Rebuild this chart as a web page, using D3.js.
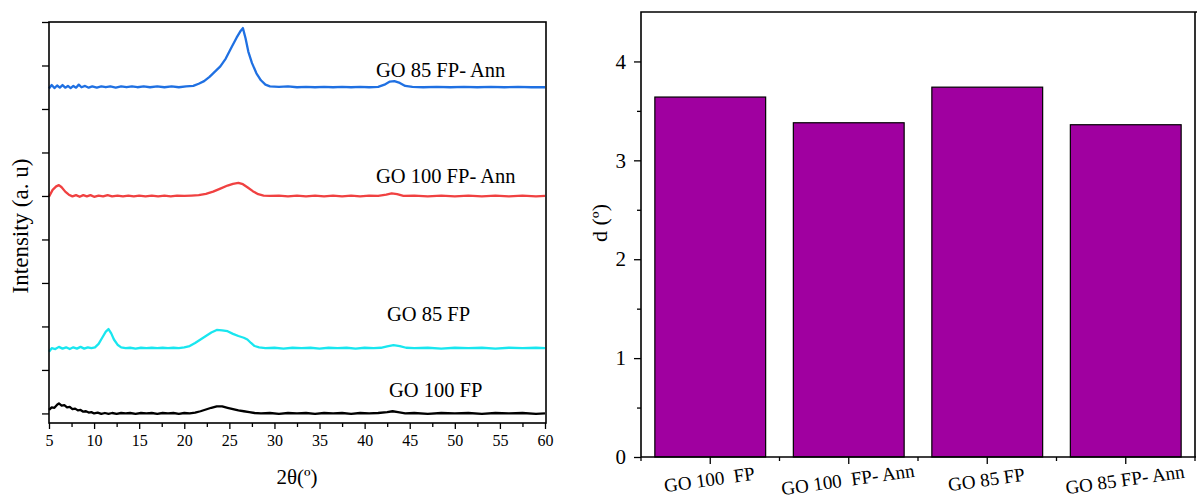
<!DOCTYPE html>
<html>
<head>
<meta charset="utf-8">
<script src="https://cdn.jsdelivr.net/npm/d3@7"></script>
<style>
  body { margin: 0; background: #fff; }
  text { font-family: "Liberation Serif", "Times New Roman", serif; fill: #000; }
</style>
</head>
<body>
<script>
// ---- data ----
// XRD patterns, [2theta, intensity (stacked, a.u.)]
var go85Ann = [[5,7.47],[5.3,7.55],[5.6,7.48],[5.9,7.54],[6.2,7.49],[6.5,7.55],[6.8,7.49],[7.1,7.53],[7.4,7.48],[7.7,7.53],[8,7.49],[8.3,7.56],[8.6,7.5],[9,7.53],[9.4,7.49],[9.8,7.52],[10.3,7.49],[10.8,7.52],[11.3,7.5],[11.8,7.52],[12.4,7.49],[13,7.52],[13.6,7.5],[14.2,7.52],[14.8,7.5],[15.5,7.52],[16.2,7.5],[17,7.52],[17.8,7.5],[18.6,7.52],[19.4,7.5],[20.2,7.52],[21,7.53],[21.6,7.58],[22.2,7.64],[22.8,7.74],[23.4,7.86],[24,7.98],[24.6,8.16],[25.2,8.4],[25.8,8.64],[26.2,8.78],[26.5,8.86],[26.8,8.62],[27.1,8.32],[27.5,8.06],[28,7.82],[28.5,7.66],[29,7.56],[29.5,7.52],[30.5,7.51],[31.5,7.52],[32.5,7.5],[33.5,7.51],[34.5,7.5],[35.5,7.51],[36.5,7.5],[37.5,7.51],[38.5,7.5],[39.5,7.51],[40.5,7.5],[41.5,7.51],[42.2,7.56],[42.8,7.63],[43.3,7.64],[43.9,7.6],[44.5,7.53],[45.3,7.51],[46.5,7.5],[48,7.51],[49.5,7.5],[51,7.51],[52.5,7.5],[54,7.51],[55.5,7.5],[57,7.51],[58.5,7.5],[60,7.5]];
var go100Ann = [[5,4.98],[5.4,5.14],[5.8,5.22],[6.1,5.25],[6.4,5.2],[6.8,5.1],[7.2,5.03],[7.6,4.99],[8,5.02],[8.4,4.98],[8.8,5.02],[9.2,4.99],[9.6,5.02],[10,4.98],[10.5,5.01],[11,4.99],[11.5,5.02],[12,4.99],[12.6,5.01],[13.2,4.99],[13.8,5.01],[14.4,4.99],[15,5.01],[15.7,4.99],[16.4,5.01],[17.1,4.99],[17.8,5.01],[18.5,4.99],[19.2,5.01],[20,5.0],[20.8,5.01],[21.6,5.02],[22.4,5.05],[23.2,5.1],[24,5.17],[24.8,5.24],[25.4,5.28],[26,5.3],[26.5,5.27],[27,5.2],[27.6,5.11],[28.2,5.04],[28.8,5.01],[29.5,5.0],[30.5,5.01],[31.5,4.99],[32.5,5.01],[33.5,4.99],[34.5,5.01],[35.5,4.99],[36.5,5.01],[37.5,4.99],[38.5,5.01],[39.5,4.99],[40.5,5.01],[41.5,5.0],[42.4,5.03],[43,5.06],[43.6,5.04],[44.3,5.0],[45.5,5.01],[47,4.99],[48.5,5.01],[50,4.99],[51.5,5.01],[53,4.99],[54.5,5.01],[56,4.99],[57.5,5.01],[59,4.99],[60,5.0]];
var go85 = [[5,1.42],[5.3,1.5],[5.7,1.48],[6.1,1.53],[6.5,1.49],[6.9,1.52],[7.3,1.48],[7.7,1.52],[8.1,1.49],[8.5,1.53],[8.9,1.49],[9.3,1.52],[9.7,1.5],[10.1,1.52],[10.5,1.6],[10.9,1.74],[11.3,1.88],[11.6,1.94],[11.9,1.84],[12.2,1.7],[12.6,1.58],[13,1.52],[13.5,1.5],[14,1.51],[14.6,1.49],[15.2,1.51],[15.8,1.5],[16.4,1.51],[17,1.5],[17.6,1.51],[18.2,1.5],[18.8,1.51],[19.4,1.5],[20,1.52],[20.6,1.55],[21.2,1.62],[21.8,1.7],[22.4,1.78],[23,1.86],[23.6,1.92],[24.2,1.91],[24.8,1.89],[25.4,1.83],[26,1.78],[26.6,1.74],[27,1.7],[27.4,1.62],[27.8,1.55],[28.3,1.52],[29,1.5],[30,1.51],[31,1.49],[32,1.51],[33,1.5],[34,1.51],[35,1.49],[36,1.51],[37,1.5],[38,1.51],[39,1.49],[40,1.51],[41,1.5],[41.8,1.51],[42.5,1.54],[43.2,1.57],[43.9,1.55],[44.6,1.51],[45.5,1.5],[47,1.51],[48.5,1.49],[50,1.51],[51.5,1.5],[53,1.51],[54.5,1.49],[56,1.51],[57.5,1.5],[59,1.51],[60,1.5]];
var go100 = [[5,0.08],[5.3,0.14],[5.6,0.13],[5.9,0.2],[6.1,0.23],[6.4,0.18],[6.7,0.19],[7,0.14],[7.3,0.15],[7.6,0.1],[7.9,0.11],[8.2,0.07],[8.5,0.08],[8.8,0.04],[9.1,0.05],[9.4,0.02],[9.7,0.03],[10,0.0],[10.4,0.02],[10.8,-0.01],[11.2,0.01],[11.6,-0.01],[12,0.01],[12.5,-0.01],[13,0.01],[13.5,0.0],[14,0.01],[14.6,-0.01],[15.2,0.01],[15.8,0.0],[16.4,0.01],[17,-0.01],[17.6,0.01],[18.2,0.0],[18.8,0.01],[19.4,-0.01],[20,0.01],[20.6,0.0],[21.2,0.02],[21.8,0.05],[22.4,0.09],[23,0.13],[23.6,0.16],[24.2,0.16],[24.8,0.13],[25.4,0.1],[26,0.07],[26.6,0.05],[27.2,0.03],[27.8,0.01],[28.5,0.0],[29.5,0.01],[30.5,-0.01],[31.5,0.01],[32.5,0.0],[33.5,0.01],[34.5,-0.01],[35.5,0.01],[36.5,0.0],[37.5,0.01],[38.5,-0.01],[39.5,0.01],[40.5,0.0],[41.5,0.01],[42.5,0.03],[43.1,0.05],[43.7,0.03],[44.5,0.0],[45.5,0.01],[47,-0.01],[48.5,0.01],[50,0.0],[51.5,0.01],[53,-0.01],[54.5,0.01],[56,0.0],[57.5,0.01],[59,-0.01],[60,0.0]];

var seriesNames = ["GO 100 FP", "GO 85 FP", "GO 100 FP- Ann", "GO 85 FP- Ann"];
var seriesColors = ["#000000", "#19e6ef", "#f04141", "#1f70e2"];
var seriesData = [go100, go85, go100Ann, go85Ann];

var xTicksL = [5, 10, 15, 20, 25, 30, 35, 40, 45, 50, 55, 60];
var xMinorL = [7.5, 12.5, 17.5, 22.5, 27.5, 32.5, 37.5, 42.5, 47.5, 52.5, 57.5];
var yTicksL = [0, 1, 2, 3, 4, 5, 6, 7, 8, 9];

// interlayer spacing bar chart
var barCats = ["GO 100  FP", "GO 100  FP- Ann", "GO 85 FP", "GO 85 FP- Ann"];
var barVals = [3.64, 3.38, 3.74, 3.36];
var yTicksR = [0, 1, 2, 3, 4];
var yMinorR = [0.5, 1.5, 2.5, 3.5];

// ---- drawing ----
const width = 1197, height = 498;

const svg = d3.select("body").append("svg")
    .attr("width", width)
    .attr("height", height);

// left panel: XRD
const xL = d3.scaleLinear().domain([5, 60]).range([49, 545]);
const yL = d3.scaleLinear().domain([-0.22, 9]).range([423, 22]);

const line = d3.line()
    .x(d => xL(d[0]))
    .y(d => yL(d[1]));

seriesData.forEach(function(s, i) {
  svg.append("path")
    .attr("d", line(s))
    .attr("fill", "none")
    .attr("stroke", seriesColors[i])
    .attr("stroke-width", 2.3)
    .attr("stroke-linejoin", "round");
});

const gxL = svg.append("g")
    .attr("transform", "translate(0,423)")
    .call(d3.axisBottom(xL).tickValues(xTicksL).tickSize(6).tickPadding(6).tickFormat(d3.format("d")));
gxL.selectAll("text").attr("font-size", 16);
gxL.select(".domain").remove();

svg.append("g")
    .attr("transform", "translate(0,423)")
    .call(d3.axisBottom(xL).tickValues(xMinorL).tickSize(4).tickFormat(""))
    .select(".domain").remove();

svg.append("g")
    .attr("transform", "translate(49,0)")
    .call(d3.axisLeft(yL).tickValues(yTicksL).tickSize(7).tickFormat(""))
    .select(".domain").remove();

// frame of left panel
svg.append("rect")
    .attr("x", 49).attr("y", 22)
    .attr("width", 497).attr("height", 401)
    .attr("fill", "none")
    .attr("stroke", "#000")
    .attr("stroke-width", 1.6);

// curve labels
const labelPos = [[389, 397], [387, 321], [376, 183], [376, 77]];
seriesNames.forEach(function(n, i) {
  svg.append("text")
    .attr("x", labelPos[i][0])
    .attr("y", labelPos[i][1])
    .attr("font-size", 20.5)
    .text(n);
});

svg.append("text")
    .attr("x", 297)
    .attr("y", 484)
    .attr("text-anchor", "middle")
    .attr("font-size", 21)
    .text("2\u03b8(\u00ba)");

svg.append("text")
    .attr("transform", "translate(28,226) rotate(-90)")
    .attr("text-anchor", "middle")
    .attr("font-size", 23)
    .text("Intensity (a. u)");

// right panel: bars
const xR = d3.scaleBand().domain(barCats).range([641, 1195]).paddingInner(0.2).paddingOuter(0.1);
const yR = d3.scaleLinear().domain([0, 4.5]).range([457, 12]);

svg.selectAll("rect.bar")
  .data(barCats)
  .join("rect")
    .attr("class", "bar")
    .attr("x", d => xR(d))
    .attr("y", (d, i) => yR(barVals[i]))
    .attr("width", xR.bandwidth())
    .attr("height", (d, i) => yR(0) - yR(barVals[i]))
    .attr("fill", "#a000a0")
    .attr("stroke", "#000")
    .attr("stroke-width", 1.2);

const gyR = svg.append("g")
    .attr("transform", "translate(641,0)")
    .call(d3.axisLeft(yR).tickValues(yTicksR).tickSize(7).tickPadding(8).tickFormat(d3.format("d")));
gyR.selectAll("text").attr("font-size", 21);
gyR.select(".domain").remove();

svg.append("g")
    .attr("transform", "translate(641,0)")
    .call(d3.axisLeft(yR).tickValues(yMinorR).tickSize(4).tickFormat(""))
    .select(".domain").remove();

// category ticks at bar centres, minor ticks at boundaries
const step = xR.step();
const gxR = svg.append("g").attr("transform", "translate(0,457)");
gxR.selectAll("line.major")
  .data(barCats)
  .join("line")
    .attr("class", "major")
    .attr("x1", d => xR(d) + xR.bandwidth() / 2)
    .attr("x2", d => xR(d) + xR.bandwidth() / 2)
    .attr("y1", 0).attr("y2", 7)
    .attr("stroke", "#000");
gxR.selectAll("line.minor")
  .data(barCats.concat(["end"]))
  .join("line")
    .attr("class", "minor")
    .attr("x1", (d, i) => 641 + i * step)
    .attr("x2", (d, i) => 641 + i * step)
    .attr("y1", 0).attr("y2", 4)
    .attr("stroke", "#000");

gxR.selectAll("text")
  .data(barCats)
  .join("text")
    .attr("transform", d => "translate(" + (xR(d) + xR.bandwidth() / 2) + ",29) rotate(-8)")
    .attr("text-anchor", "middle")
    .attr("font-size", 19)
    .style("white-space", "pre")
    .text(d => d);

svg.selectAll(".tick line, line.major, line.minor").attr("stroke", "#000").attr("stroke-width", 1.3);

// frame of right panel
svg.append("path")
    .attr("d", "M641,457 L641,12 L1197,12 M641,457 L1196,457 M1195,12 L1195,457")
    .attr("fill", "none")
    .attr("stroke", "#000")
    .attr("stroke-width", 1.6);

svg.append("text")
    .attr("transform", "translate(607,223) rotate(-90)")
    .attr("text-anchor", "middle")
    .attr("font-size", 22)
    .text("d (\u00ba)");
</script>
</body>
</html>
